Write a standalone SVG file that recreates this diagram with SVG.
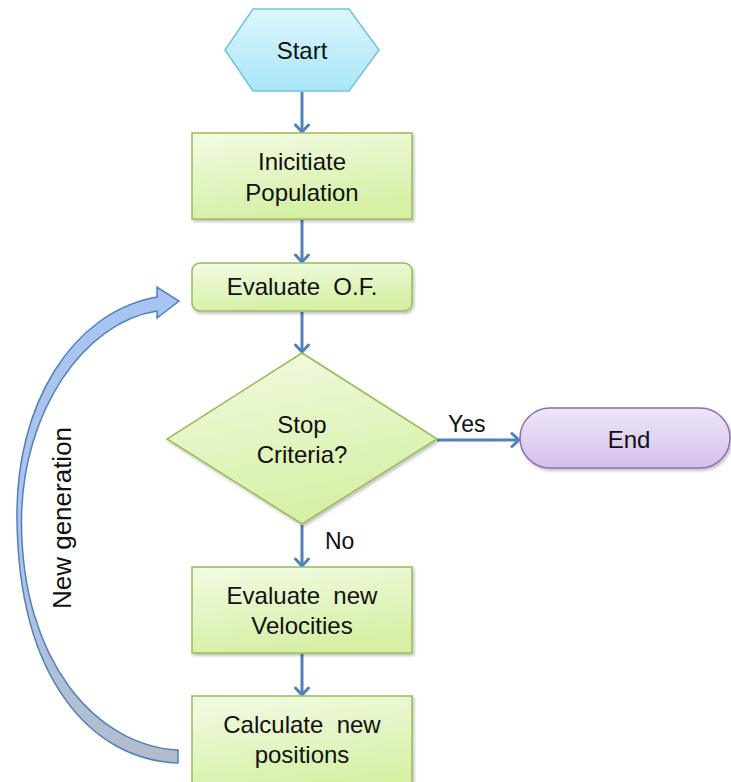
<svg xmlns="http://www.w3.org/2000/svg" width="731" height="782" viewBox="0 0 731 782">
  <defs>
    <linearGradient id="gGreen" x1="0" y1="0" x2="0.3" y2="1">
      <stop offset="0" stop-color="#f3fbe4"/>
      <stop offset="1" stop-color="#d6f0a6"/>
    </linearGradient>
    <linearGradient id="gBlue" x1="0" y1="0" x2="0" y2="1">
      <stop offset="0" stop-color="#ddf6fd"/>
      <stop offset="1" stop-color="#a9e6f8"/>
    </linearGradient>
    <linearGradient id="gPurple" x1="0" y1="0" x2="0" y2="1">
      <stop offset="0" stop-color="#efe6f8"/>
      <stop offset="1" stop-color="#d4c0ec"/>
    </linearGradient>
    <linearGradient id="gCurve" x1="0" y1="0" x2="0" y2="1">
      <stop offset="0" stop-color="#a7c4f2"/>
      <stop offset="0.55" stop-color="#aec4e8"/>
      <stop offset="1" stop-color="#b3bccd"/>
    </linearGradient>
    <filter id="shadow" x="-10%" y="-10%" width="130%" height="130%">
      <feDropShadow dx="1.5" dy="2" stdDeviation="1.5" flood-color="#000" flood-opacity="0.25"/>
    </filter>
    <marker id="arr" viewBox="-10 -9 12 18" refX="0" refY="0" markerWidth="12" markerHeight="18" markerUnits="userSpaceOnUse" orient="auto">
      <path d="M-7,-6.5 L0,0 L-7,6.5" fill="none" stroke="#4f81bd" stroke-width="3" stroke-linecap="round" stroke-linejoin="round"/>
    </marker>
  </defs>
  <style>
    .box { fill: url(#gGreen); stroke: #9bbb59; stroke-width: 1.5; filter: url(#shadow); }
    .txt { font-family: "Liberation Sans", Arial, sans-serif; font-size: 24px; fill: #111; text-anchor: middle; white-space: pre; }
    .lbl { font-family: "Liberation Sans", Arial, sans-serif; font-size: 23px; fill: #111; }
    .conn { stroke: #4f81bd; stroke-width: 3; fill: none; marker-end: url(#arr); }
  </style>
  <rect width="731" height="782" fill="#ffffff"/>

  <g id="connectors">
    <line class="conn" x1="302" y1="92" x2="302" y2="132"/>
    <line class="conn" x1="302" y1="220" x2="302" y2="262"/>
    <line class="conn" x1="302" y1="312" x2="302" y2="352"/>
    <line class="conn" x1="437" y1="440" x2="519" y2="440"/>
    <line class="conn" x1="302" y1="525" x2="302" y2="566"/>
    <line class="conn" x1="302" y1="654" x2="302" y2="695"/>
    <text class="lbl" x="448" y="432">Yes</text>
    <text class="lbl" x="325" y="549">No</text>
  </g>

  <g id="loop">
    <path d="M178,763 C92,760 19,680 17,520 C15,405 72,312 157,297 L157,287 L179,301 L157,318 L157,311 C84,322 22,412 21.5,520 C21,662 97,746 178,750 Z" fill="url(#gCurve)" stroke="#4f81bd" stroke-width="1.5" stroke-linejoin="miter"/>
    <text class="txt" style="font-size:26px" transform="translate(71,518) rotate(-90)">New generation</text>
  </g>

  <g id="start">
    <polygon points="225,50 253,9 349,9 379,50 349,91 253,91" fill="url(#gBlue)" stroke="#76c2dc" stroke-width="1.5"/>
    <text class="txt" x="302" y="59">Start</text>
  </g>

  <g id="init">
    <rect class="box" x="192" y="133" width="220" height="86"/>
    <text class="txt" x="302" y="170">Inicitiate</text>
    <text class="txt" x="302" y="201">Population</text>
  </g>

  <g id="evalof">
    <rect class="box" x="192" y="263" width="220" height="48" rx="8"/>
    <text class="txt" x="302" y="295" xml:space="preserve">Evaluate  O.F.</text>
  </g>

  <g id="stop">
    <polygon class="box" points="302,353 437,439 302,524 167,439"/>
    <text class="txt" x="302" y="433">Stop</text>
    <text class="txt" x="302" y="463">Criteria?</text>
  </g>

  <g id="end">
    <rect x="520" y="408" width="210" height="60" rx="30" fill="url(#gPurple)" stroke="#8e6fb5" stroke-width="1.5" filter="url(#shadow)"/>
    <text class="txt" x="629" y="448">End</text>
  </g>

  <g id="velocities">
    <rect class="box" x="192" y="567" width="220" height="86"/>
    <text class="txt" x="302" y="604" xml:space="preserve">Evaluate  new</text>
    <text class="txt" x="302" y="634">Velocities</text>
  </g>

  <g id="positions">
    <rect class="box" x="192" y="696" width="220" height="100"/>
    <text class="txt" x="302" y="733" xml:space="preserve">Calculate  new</text>
    <text class="txt" x="302" y="763">positions</text>
  </g>
</svg>
